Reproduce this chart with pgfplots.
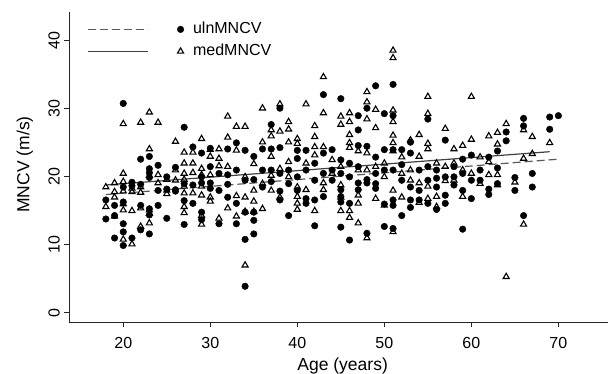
\documentclass[border=0pt]{standalone}
\usepackage{fontspec}
\setmainfont{Liberation Sans}
\usepackage{pgfplots}
\pgfplotsset{compat=1.18}
\begin{document}
\begin{tikzpicture}
\begin{axis}[
  name=ax,
  scale only axis,
  width=538.7pt, height=310.6pt,
  xmin=13.8, xmax=75.7, ymin=-1.4, ymax=44.3,
  axis x line*=bottom, axis y line*=left,
  axis line style={line width=1.1pt, black!85, -},
  xtick={20,30,...,70}, ytick={0,10,...,40},
  tick align=outside, major tick length=5pt,
  tick style={line width=1.1pt, black!85},
  tick label style={font=\fontsize{16}{19}\selectfont},
  /pgf/number format/assume math mode=true,
  xticklabel style={anchor=base, yshift=-21pt},
  yticklabel style={rotate=90, anchor=base, yshift=4.6pt},
  xlabel={Age (years)}, ylabel={MNCV (m/s)},
  label style={font=\fontsize{17.5}{20}\selectfont},
  xlabel style={at={(axis description cs:0.5,0)}, anchor=base, yshift=-48.5pt, xshift=4pt},
  ylabel style={at={(axis description cs:0,0.5)}, anchor=base, xshift=2.5pt, yshift=39.9pt},
  legend style={draw=none, fill=none, inner sep=0pt, outer sep=0pt,
    at={(axis cs:15.83,40.08)}, anchor=west, column sep=8pt, row sep=5pt,
    font=\fontsize{16}{19}\selectfont,
    nodes={inner sep=1pt, text height=12pt, text depth=3pt}},
  legend cell align=left,
]
\addlegendimage{legend image code/.code={
  \draw[black!65, line width=1.2pt, dash pattern=on 8pt off 4pt] (0pt,0pt) -- (60pt,0pt);
  \fill[black] (93pt,0pt) circle (3.3pt);}}
\addlegendentry{ulnMNCV}
\addlegendimage{legend image code/.code={
  \draw[black!75, line width=1.2pt] (0pt,0pt) -- (60pt,0pt);
  \draw[black, line width=1.1pt, mark=triangle, mark size=3.5pt, only marks] plot coordinates {(93pt,0pt)};}}
\addlegendentry{medMNCV}

\addplot[forget plot, only marks, mark=*, mark size=3.3pt, black] table {
x y
18 16.6
18 13.8
19 15.8
19 11.0
19 14.3
20 30.8
20 18.5
20 16.3
20 13.1
20 11.9
20 9.9
21 19.2
21 18.7
21 11.0
22 22.6
22 18.9
22 15.8
22 12.2
23 23.0
23 21.2
23 20.6
23 19.9
23 15.3
23 14.4
23 11.6
24 21.7
24 18.0
24 15.8
25 20.0
25 18.2
25 13.9
26 21.4
26 18.1
26 17.9
27 27.3
27 19.0
27 16.5
27 13.0
28 24.4
28 18.8
28 16.1
29 23.5
29 20.0
29 19.1
29 14.8
29 13.7
30 24.2
30 21.5
30 19.1
30 18.3
31 20.5
31 18.0
31 13.1
32 24.1
32 20.3
32 18.9
32 17.0
33 25.0
33 21.0
33 16.1
33 13.1
34 23.9
34 19.5
34 14.8
34 10.8
34 3.9
35 23.0
35 19.6
35 14.8
35 13.6
35 11.6
36 24.1
36 21.0
36 18.5
37 27.7
37 24.1
37 21.0
37 19.3
38 30.1
38 24.3
38 20.5
38 17.9
38 16.6
39 21.0
39 19.0
39 14.3
40 23.9
40 22.7
40 20.0
40 18.0
41 23.9
41 21.0
41 16.8
41 16.1
42 22.0
42 19.5
42 16.6
42 12.8
43 32.1
43 23.5
43 20.5
43 17.1
44 24.0
44 21.0
44 19.5
45 31.5
45 22.5
45 20.5
45 18.1
45 17.1
45 16.3
45 12.6
46 22.0
46 20.0
46 16.1
46 10.7
47 29.0
47 26.9
47 24.6
47 21.5
47 19.1
47 18.1
48 30.1
48 24.5
48 19.6
48 19.1
48 11.7
49 33.4
49 22.9
49 20.5
49 19.0
49 18.3
50 29.3
50 24.0
50 21.0
50 16.0
50 12.7
51 33.6
51 29.0
51 24.0
51 21.0
51 16.6
51 15.8
51 12.4
52 24.0
52 21.8
52 19.5
52 14.3
53 25.1
53 23.5
53 18.5
53 16.6
53 15.5
54 21.0
54 18.0
54 16.6
55 28.5
55 21.5
55 19.5
55 16.1
56 21.0
56 19.8
56 18.5
56 15.2
57 25.4
57 20.0
57 17.3
57 16.1
58 21.5
58 20.0
58 18.8
59 22.6
59 20.5
59 18.0
59 12.3
60 23.2
60 19.5
60 16.8
61 21.0
61 19.5
62 22.9
62 18.2
62 17.4
63 23.8
63 21.3
63 19.0
64 26.6
64 25.3
65 19.9
65 18.0
66 28.6
66 27.5
66 14.3
67 20.5
67 18.5
69 28.8
69 27.0
70 29.0
};

\addplot[forget plot, only marks, mark=triangle, mark size=3.5pt, black, line width=1.1pt] table {
x y
18 18.5
18 15.6
19 19.1
19 17.8
19 17.0
19 14.2
20 27.8
20 20.5
20 19.3
20 17.9
20 16.0
20 15.1
20 10.8
21 18.3
21 17.8
21 15.0
21 10.1
22 28.0
22 18.5
22 17.7
22 15.4
22 12.7
23 29.5
23 24.1
23 20.2
23 15.1
23 14.6
23 13.2
24 28.0
24 20.3
24 19.1
25 19.6
25 18.0
25 17.5
26 25.2
26 21.0
26 19.5
27 23.6
27 22.0
27 20.5
27 19.6
27 18.6
27 17.6
27 15.6
27 14.7
28 23.6
28 22.0
28 20.6
28 17.6
29 25.6
29 21.2
29 20.3
29 18.6
29 17.3
29 14.3
29 13.0
30 24.0
30 23.0
30 20.3
30 17.0
30 16.4
31 24.1
31 22.7
31 21.6
31 13.9
32 28.9
32 25.8
32 21.5
32 15.4
33 27.4
33 23.9
33 17.2
33 14.2
34 27.4
34 20.0
34 17.0
34 14.9
34 7.0
35 21.9
35 18.0
35 16.4
35 14.9
36 30.1
36 25.1
36 19.0
36 15.3
37 26.9
37 26.0
37 23.0
37 20.2
37 18.0
38 30.7
38 26.7
38 21.2
38 17.0
39 28.1
39 27.0
39 25.1
39 22.2
39 20.0
40 25.6
40 24.9
40 18.5
40 17.1
40 16.1
40 15.2
41 30.7
41 22.0
41 18.1
42 27.5
42 25.9
42 24.4
42 23.2
42 15.0
43 34.7
43 29.4
43 24.4
43 19.1
43 18.1
44 22.5
44 20.5
45 28.9
45 27.7
45 21.5
45 18.8
45 17.0
45 15.0
46 29.4
46 28.1
46 26.2
46 25.0
46 24.3
46 15.0
46 14.0
47 23.8
47 21.0
47 17.3
47 16.1
47 13.2
48 32.5
48 31.0
48 28.5
48 23.5
48 21.0
48 11.0
49 29.9
49 27.2
49 21.5
49 16.8
50 22.0
50 20.0
50 15.8
51 38.6
51 37.5
51 29.8
51 28.1
51 26.1
51 25.0
51 23.8
51 18.0
51 11.9
52 22.9
52 20.5
52 17.0
53 25.4
53 21.0
53 19.5
54 26.2
54 23.0
54 19.1
54 16.2
55 31.8
55 29.3
55 24.9
55 24.1
55 18.6
55 16.8
56 22.0
56 17.1
56 15.6
57 27.1
57 21.5
57 19.4
58 24.1
58 22.0
58 19.5
59 24.6
59 21.0
59 17.1
60 31.8
60 25.5
60 20.5
61 22.9
61 19.0
62 26.0
62 22.2
62 20.3
63 26.5
63 24.8
63 20.3
63 18.8
64 27.8
64 5.3
65 19.2
66 26.9
66 22.7
66 13.0
67 25.9
67 23.4
69 25.0
};

\addplot[forget plot, black!65, line width=1.2pt, dash pattern=on 8pt off 4pt] coordinates {(18,17.4) (70,22.6)};
\addplot[forget plot, black!75, line width=1.2pt] coordinates {(18,18.8) (69,23.7)};
\end{axis}
\pgfresetboundingbox
\path[use as bounding box] ([shift={(-69.3pt,-51.7pt)}]ax.south west) rectangle ([shift={(540.7pt,322.3pt)}]ax.south west);
\end{tikzpicture}
\end{document}
